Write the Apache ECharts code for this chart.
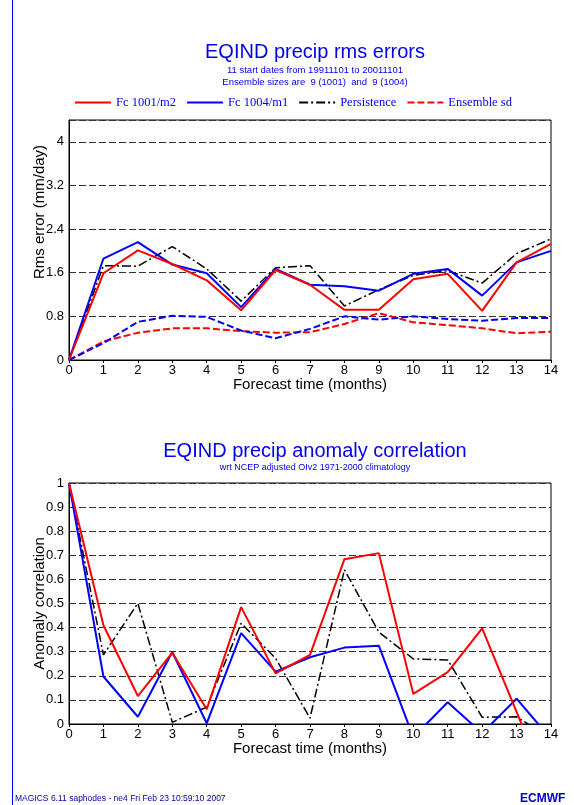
<!DOCTYPE html>
<html>
<head>
<meta charset="utf-8">
<script src="https://cdn.jsdelivr.net/npm/echarts@6/dist/echarts.min.js"></script>
<style>
html, body { margin: 0; padding: 0; background: #fff; }
#main { width: 574px; height: 805px; }
</style>
</head>
<body>
<div id="main"></div>
<script>
var chart = echarts.init(document.getElementById('main'));

// forecast months
var months = ['0','1','2','3','4','5','6','7','8','9','10','11','12','13','14'];

// rms errors (mm/day)
var rmsFc1001 = [0, 1.59, 2.01, 1.76, 1.46, 0.91, 1.65, 1.38, 0.92, 0.92, 1.48, 1.58, 0.90, 1.79, 2.13];
var rmsFc1004 = [0, 1.86, 2.16, 1.75, 1.59, 0.97, 1.67, 1.38, 1.35, 1.27, 1.58, 1.67, 1.18, 1.79, 2.00];
var rmsPersist = [0, 1.73, 1.72, 2.08, 1.67, 1.08, 1.69, 1.73, 0.99, 1.29, 1.55, 1.64, 1.41, 1.95, 2.22];
var sd1001 = [0, 0.34, 0.50, 0.58, 0.58, 0.53, 0.50, 0.51, 0.66, 0.86, 0.69, 0.64, 0.58, 0.49, 0.52];
var sd1004 = [0, 0.31, 0.70, 0.81, 0.79, 0.54, 0.40, 0.57, 0.80, 0.74, 0.80, 0.75, 0.72, 0.77, 0.77];

// anomaly correlation
var acFc1001 = [1, 0.41, 0.116, 0.296, 0.061, 0.485, 0.21, 0.287, 0.684, 0.709, 0.125, 0.215, 0.397, 0.05, -0.3];
var acFc1004 = [1, 0.197, 0.03, 0.299, 0.003, 0.377, 0.217, 0.277, 0.317, 0.325, -0.055, 0.09, -0.038, 0.105, -0.062];
var acPersist = [1, 0.287, 0.501, 0.007, 0.07, 0.418, 0.273, 0.024, 0.64, 0.381, 0.27, 0.266, 0.028, 0.03, -0.06];

var legendNames = ['Fc 1001/m2', 'Fc 1004/m1', 'Persistence', 'Ensemble sd'];

var gridLine = { show: true, lineStyle: { color: '#333', type: [7, 3], width: 1 } };
var axisLab = { color: '#000', fontSize: 13, fontFamily: 'Liberation Sans' };
var nameStyle = { color: '#000', fontSize: 15, fontFamily: 'Liberation Sans' };

function xAx(idx) {
    return {
        type: 'category',
        gridIndex: idx,
        data: months,
        boundaryGap: false,
        name: 'Forecast time (months)',
        nameLocation: 'middle',
        nameGap: 17,
        nameMoveOverlap: false,
        nameTextStyle: nameStyle,
        axisLine: { lineStyle: { color: '#000', width: 1 } },
        axisTick: { show: true, length: 3, lineStyle: { color: '#000' } },
        axisLabel: Object.assign({ margin: 4 }, axisLab),
        splitLine: { show: false }
    };
}

function line(name, data, color, type, width, xi) {
    return {
        name: name,
        type: 'line',
        xAxisIndex: xi,
        yAxisIndex: xi,
        data: data,
        symbol: 'none',
        silent: true,
        clip: true,
        lineStyle: { color: color, type: type, width: width },
        itemStyle: { color: color }
    };
}

var option = {
    backgroundColor: '#fff',
    animation: false,
    title: [{
        text: 'EQIND precip rms errors',
        subtext: '11 start dates from 19911101 to 20011101\nEnsemble sizes are  9 (1001)  and  9 (1004)',
        left: 310,
        top: 37,
        textAlign: 'center',
        itemGap: 2,
        textStyle: { color: '#0000ee', fontSize: 20, fontWeight: 'normal', fontFamily: 'Liberation Sans' },
        subtextStyle: { color: '#0000ee', fontSize: 9.5, lineHeight: 12, fontFamily: 'Liberation Sans' }
    }, {
        text: 'EQIND precip anomaly correlation',
        subtext: 'wrt NCEP adjusted OIv2 1971-2000 climatology',
        left: 310,
        top: 436,
        textAlign: 'center',
        itemGap: 2,
        textStyle: { color: '#0000ee', fontSize: 20, fontWeight: 'normal', fontFamily: 'Liberation Sans' },
        subtextStyle: { color: '#0000ee', fontSize: 9, fontFamily: 'Liberation Sans' }
    }],
    legend: {
        data: legendNames,
        left: 69,
        top: 91,
        itemWidth: 36,
        itemHeight: 12,
        itemGap: 10,
        selectedMode: false,
        itemStyle: { opacity: 0 },
        textStyle: { color: '#0000ee', fontSize: 12.5, fontFamily: 'Liberation Serif' }
    },
    grid: [
        { left: 69, right: 23, top: 120, bottom: 445, show: true, borderColor: '#000', borderWidth: 1 },
        { left: 69, right: 23, top: 483, bottom: 81, show: true, borderColor: '#000', borderWidth: 1 }
    ],
    xAxis: [xAx(0), xAx(1)],
    yAxis: [{
        type: 'value',
        gridIndex: 0,
        min: 0,
        max: 4.4,
        interval: 0.8,
        name: 'Rms error (mm/day)',
        nameLocation: 'middle',
        nameGap: 22,
        nameMoveOverlap: false,
        nameTextStyle: Object.assign({ padding: [0, 0, 0, 56] }, nameStyle),
        axisLine: { show: true, lineStyle: { color: '#000' } },
        axisTick: { show: false },
        axisLabel: Object.assign({ showMaxLabel: false, margin: 5 }, axisLab),
        splitLine: gridLine
    }, {
        type: 'value',
        gridIndex: 1,
        min: 0,
        max: 1,
        interval: 0.1,
        name: 'Anomaly correlation',
        nameLocation: 'middle',
        nameGap: 22,
        nameMoveOverlap: false,
        nameTextStyle: nameStyle,
        axisLine: { show: true, lineStyle: { color: '#000' } },
        axisTick: { show: false },
        axisLabel: Object.assign({ margin: 5 }, axisLab),
        splitLine: gridLine
    }],
    series: [
        line('Ensemble sd', sd1001, '#ff0000', [7, 3], 2, 0),
        line('Ensemble sd 1004', sd1004, '#0000ff', [7, 3], 2, 0),
        line('Persistence', rmsPersist, '#000000', [9, 3, 2, 3], 1.5, 0),
        line('Fc 1004/m1', rmsFc1004, '#0000ff', 'solid', 2, 0),
        line('Fc 1001/m2', rmsFc1001, '#ff0000', 'solid', 2, 0),
        line('Persistence', acPersist, '#000000', [9, 3, 2, 3], 1.5, 1),
        line('Fc 1004/m1', acFc1004, '#0000ff', 'solid', 2, 1),
        line('Fc 1001/m2', acFc1001, '#ff0000', 'solid', 2, 1)
    ],
    graphic: [{
        type: 'line',
        shape: { x1: 12.5, y1: 0, x2: 12.5, y2: 805 },
        style: { stroke: '#0000ff', lineWidth: 1 }
    }, {
        type: 'text',
        left: 15,
        top: 794,
        style: { text: 'MAGICS 6.11 saphodes - ne4 Fri Feb 23 10:59:10 2007', fill: '#0000aa', font: '8.5px Liberation Sans' }
    }, {
        type: 'text',
        left: 520,
        top: 793,
        style: { text: 'ECMWF', fill: '#0000cc', font: 'bold 12px Liberation Sans' }
    }]
};

chart.setOption(option);
</script>
</body>
</html>
